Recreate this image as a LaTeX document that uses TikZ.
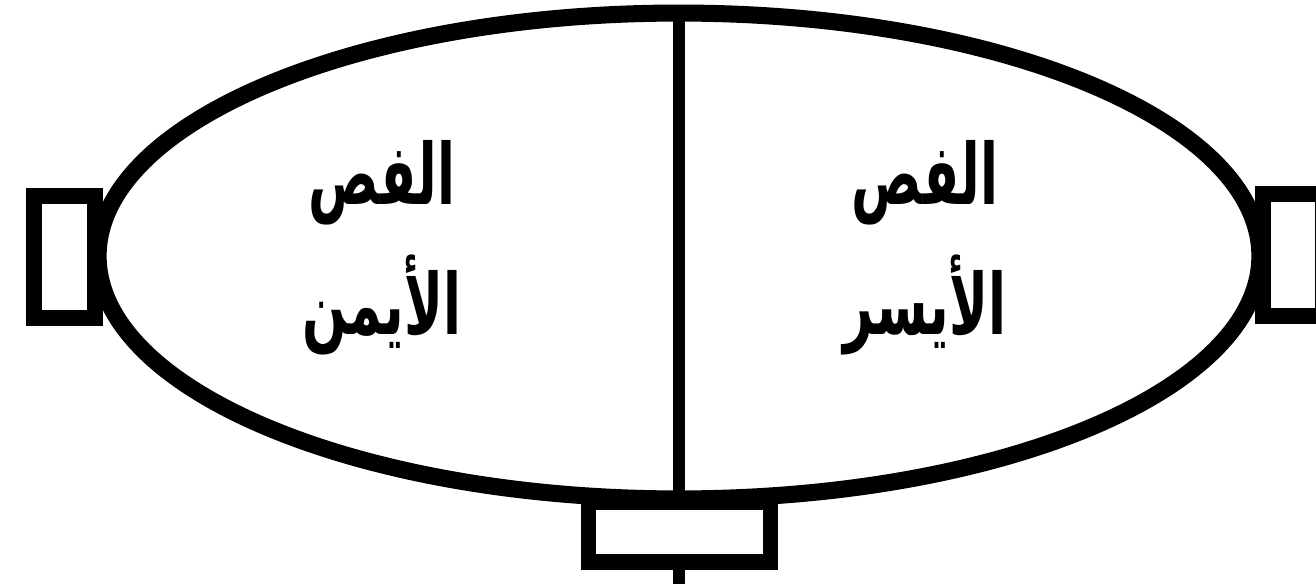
\documentclass[tikz,border=0pt]{standalone}
\usepackage{fontspec}
\usepackage{tikz}
\usetikzlibrary{shapes.geometric, positioning}
\newfontfamily\arabicfont[Script=Arabic, FakeStretch=0.62]{DejaVu Sans}
\TeXXeTstate=1

\begin{document}
\begin{tikzpicture}[
    x=0.02cm, y=-0.02cm,
    lobe/.style={ellipse, draw, line width=9.7pt, minimum width=23.24cm, minimum height=9.72cm, inner sep=0pt},
    sidebox/.style={rectangle, draw, fill=white, line width=9pt, inner sep=0pt, minimum width=1.21cm, minimum height=2.44cm},
    basebox/.style={rectangle, draw, fill=white, line width=9pt, inner sep=0pt, minimum width=3.64cm, minimum height=1.21cm},
    lobetext/.style={font=\arabicfont\bfseries\fontsize{48}{74}\selectfont, align=center, inner sep=0pt},
]
    \useasboundingbox (0,0) rectangle (1316,584);

    \node[lobe] (brain) at (679,256) {};
    \coordinate (stem) at (679,600);

    % split line, then the boxes on top of it
    \draw[line width=6.8pt] (brain.north) -- (stem);
    \node[sidebox] (leftbox) at (64.5,257) {};
    \node[sidebox] (rightbox) at (1293,255) {};
    \node[basebox] (bottombox) at (679.5,532) {};

    \node[lobetext] (rightlobe) at (382,248) {\beginR الفص\endR\\\beginR الأيمن\endR};
    \node[lobetext] (leftlobe) at (925,248) {\beginR الفص\endR\\\beginR الأيسر\endR};
\end{tikzpicture}
\end{document}
